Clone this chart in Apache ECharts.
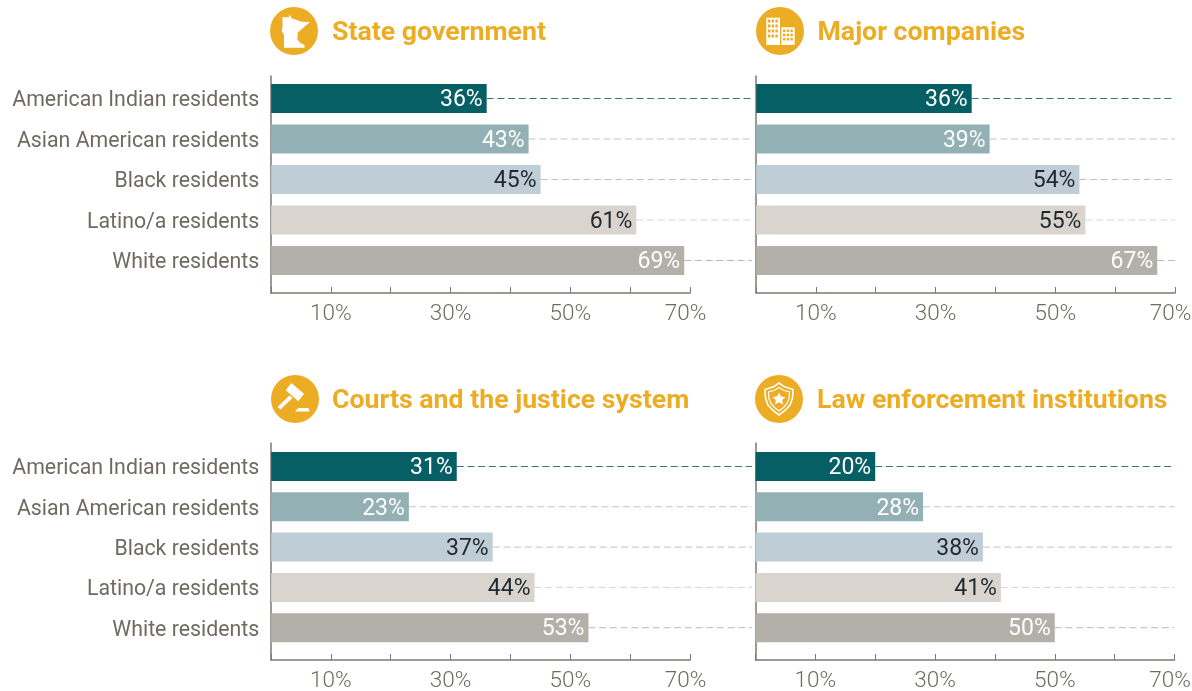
<!DOCTYPE html>
<html>
<head>
<meta charset="utf-8">
<title>Trust in institutions</title>
<script src="https://cdn.jsdelivr.net/npm/echarts@6/dist/echarts.min.js"></script>
<style>
    html, body { margin: 0; background: #fff; }
    #main { width: 1192px; height: 691px; }
</style>
</head>
<body>
<div id="main"></div>
<script>
    // values
    var categories = ['American Indian residents', 'Asian American residents', 'Black residents', 'Latino/a residents', 'White residents'];
    var stateGovernment = [36, 43, 45, 61, 69];
    var majorCompanies = [36, 39, 54, 55, 67];
    var courts = [31, 23, 37, 44, 53];
    var lawEnforcement = [20, 28, 38, 41, 50];
    var tickLabels = ['', '10%', '', '30%', '', '50%', '', '{last|70%}'];
    var panelTitles = ['State government', 'Major companies', 'Courts and the justice system', 'Law enforcement institutions'];

    var barColors = ['#075F66', '#93B1B4', '#BFCDD6', '#D9D5CE', '#B3AFA9'];
    var leaderColors = ['#2F7A80', '#B4C8CA', '#B6C4CD', '#D8D5CF', '#BDB9B3'];
    var labelColors = ['#fff', '#fff', '#1F2A30', '#1F2A30', '#fff'];
    var gold = '#ECAC23';
    var axisColor = '#7E796F';
    var fontName = 'Roboto';

    var panels = [
        {values: stateGovernment, left: 271, barLeft: 271.2, top: 76, barTop: 78.25, barHeight: 202.5, titleTop: 15, axisEnd: 690, lineEnd: 752},
        {values: majorCompanies, left: 756, barLeft: 756.2, top: 76, barTop: 78.25, barHeight: 202.5, titleTop: 15, axisEnd: 1175, lineEnd: 1175},
        {values: courts, left: 271, barLeft: 271.2, top: 443, barTop: 446.35, barHeight: 201.5, titleTop: 383, axisEnd: 690, lineEnd: 752},
        {values: lawEnforcement, left: 755.5, barLeft: 755.5, top: 443, barTop: 446.35, barHeight: 201.5, titleTop: 383, axisEnd: 1174.5, lineEnd: 1174.5}
    ];

    var grids = [], xAxes = [], yAxes = [], series = [], titles = [];

    panels.forEach(function (p, i) {
        var pxPerUnit = (p.axisEnd - p.left) / 70;
        var lineMax = (p.lineEnd - p.barLeft) / pxPerUnit;

        // frame grid: axis lines, ticks and percent labels
        grids.push({left: p.left, top: p.top, width: p.axisEnd - p.left, height: 217, outerBoundsMode: 'none'});
        xAxes.push({
            type: 'value', gridIndex: i * 2, min: 0, max: 70, interval: 10,
            splitLine: {show: false},
            axisLine: {show: true, lineStyle: {color: axisColor, width: 1.5}},
            axisTick: {show: true, inside: true, length: 6, lineStyle: {color: axisColor, width: 1}},
            axisLabel: {
                show: true, margin: 10, fontFamily: fontName, fontSize: 22.5, fontWeight: 300, color: '#6F6B60',
                showMaxLabel: true, hideOverlap: false,
                // the 70% label sits a little left of its tick
                rich: {last: {fontFamily: fontName, fontSize: 22.5, fontWeight: 300, color: '#6F6B60', padding: [0, 9, 0, 0]}},
                formatter: function (v) { return tickLabels[v / 10]; }
            }
        });
        yAxes.push({
            type: 'value', gridIndex: i * 2, min: 0, max: 1,
            splitLine: {show: false}, axisTick: {show: false}, axisLabel: {show: false},
            axisLine: {show: true, lineStyle: {color: axisColor, width: 1.5}}
        });

        // bar grid, 5 bands of about 40px sitting inside the frame
        grids.push({left: p.barLeft, top: p.barTop, width: p.lineEnd - p.barLeft, height: p.barHeight, outerBoundsMode: 'none'});
        xAxes.push({type: 'value', gridIndex: i * 2 + 1, min: 0, max: lineMax, show: false});
        yAxes.push({
            type: 'category', gridIndex: i * 2 + 1, inverse: true, data: categories,
            axisLine: {show: false}, axisTick: {show: false},
            axisLabel: {
                show: i % 2 === 0, margin: 12,
                rich: {c: {fontFamily: fontName, fontSize: 21.3, color: '#6F6B60', padding: [5, 0, 0, 0]}},
                formatter: function (v) { return '{c|' + v + '}'; }
            }
        });

        // dashed leaders, one per row, behind the bars
        categories.forEach(function (cat, k) {
            series.push({
                type: 'line',
                xAxisIndex: i * 2 + 1,
                yAxisIndex: i * 2 + 1,
                symbol: 'none',
                silent: true,
                z: 1,
                lineStyle: {color: leaderColors[k], type: [7, 3.7], width: 1},
                data: [[p.values[k], cat], [lineMax, cat]]
            });
        });

        series.push({
            type: 'bar',
            xAxisIndex: i * 2 + 1,
            yAxisIndex: i * 2 + 1,
            barWidth: 29,
            z: 2,
            data: p.values.map(function (v, k) {
                return {
                    value: v,
                    itemStyle: {color: barColors[k]},
                    label: {color: labelColors[k]}
                };
            }),
            label: {
                show: true, position: 'insideRight', distance: 4, offset: [0, 2],
                fontFamily: fontName, fontSize: 23, fontWeight: 400,
                formatter: '{c}%'
            }
        });

        titles.push({
            text: panelTitles[i],
            left: i % 2 === 0 ? 327 : (i === 1 ? 812.5 : 812),
            top: p.titleTop,
            textStyle: {fontFamily: fontName, fontSize: 26.7, fontWeight: 700, color: gold}
        });
    });

    // round icons next to the titles
    function circle(cx, cy) {
        return {type: 'circle', shape: {cx: cx, cy: cy, r: 24}, style: {fill: gold}};
    }
    function poly(points) {
        return {type: 'polygon', shape: {points: points}, style: {fill: '#fff'}};
    }
    function outline(points, width) {
        return {type: 'polygon', shape: {points: points}, style: {fill: 'none', stroke: '#fff', lineWidth: width}};
    }
    function rect(x, y, w, h, fill) {
        return {type: 'rect', shape: {x: x, y: y, width: w, height: h}, style: {fill: fill}};
    }

    var icons = [circle(294, 31), circle(780, 31), circle(295, 399), circle(779, 399)];

    // Minnesota
    icons.push(poly([[282.3, 17.3], [289, 17.3], [289.3, 15], [290.7, 15.7], [291.3, 18.3], [296.7, 20], [301.7, 21.7], [310, 22], [302.7, 28.3], [297.7, 32.7], [297.3, 39.3], [300, 42.7], [304.5, 45], [304.5, 47.7], [284, 47.7], [284, 35], [281.7, 30.7], [282.7, 25]]));

    // buildings
    icons.push(rect(766.3, 17.7, 13.7, 27.3, '#fff'));
    icons.push(rect(781.3, 27.3, 13.4, 17.7, '#fff'));
    for (var r = 0; r < 4; r++) {
        for (var c = 0; c < 3; c++) {
            icons.push(rect(768 + c * 3.7, 19.5 + r * 5, 2.4, 3, gold));
        }
    }
    for (var r2 = 0; r2 < 3; r2++) {
        for (var c2 = 0; c2 < 3; c2++) {
            icons.push(rect(783 + c2 * 3.7, 29.5 + r2 * 4.2, 2.4, 2.6, gold));
        }
    }

    // gavel
    icons.push(poly([[291.3, 383], [304, 393.7], [298.3, 401.3], [285.7, 390.3]]));
    icons.push(poly([[289.5, 395.5], [292.5, 398], [280.5, 409.5], [277.5, 407]]));
    icons.push(poly([[298.3, 408], [308.3, 408], [309.7, 411.5], [295, 411.5]]));

    // shield with a star
    icons.push(outline([[779, 383], [784, 386.5], [793, 389.5], [792.5, 398], [790, 405], [785, 410.5], [779, 415], [773, 410.5], [768, 405], [765.5, 398], [765, 389.5], [774, 386.5]], 1.6));
    icons.push(outline([[779, 387.5], [783.5, 390.2], [789.5, 392], [789.2, 398], [787, 403.5], [783.5, 407.5], [779, 411], [774.5, 407.5], [771, 403.5], [768.8, 398], [768.5, 392], [774.5, 390.2]], 1.2));
    icons.push(poly([[779, 392.5], [781, 396.5], [785.5, 397], [782.2, 400], [783, 404.5], [779, 402.3], [775, 404.5], [775.8, 400], [772.5, 397], [777, 396.5]]));

    var chart = echarts.init(document.getElementById('main'));
    chart.setOption({
        animation: false,
        backgroundColor: '#fff',
        title: titles,
        grid: grids,
        xAxis: xAxes,
        yAxis: yAxes,
        series: series,
        graphic: {elements: icons}
    });
</script>
</body>
</html>
